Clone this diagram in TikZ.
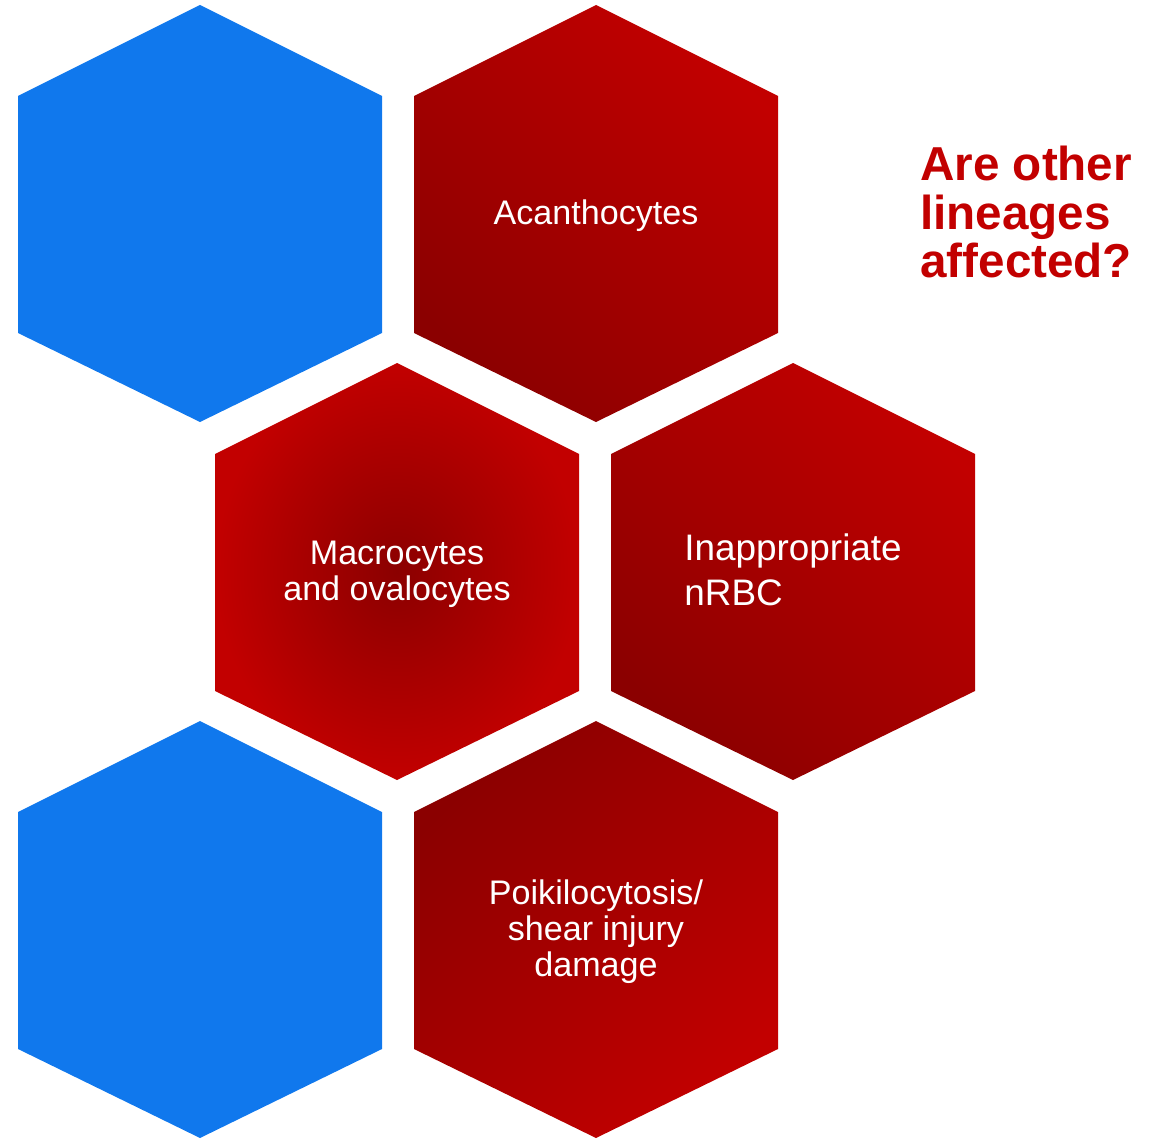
\documentclass[tikz,border=0pt]{standalone}
\usepackage{fontspec}
\setmainfont{Liberation Sans}
\definecolor{celldark}{RGB}{139,0,0}
\definecolor{cellred}{RGB}{194,0,0}
\definecolor{cellblue}{RGB}{16,120,237}
\newcommand\hexcell[2]{(#1,#2-208.5) -- (#1+182,#2-117.5) -- (#1+182,#2+119.5) -- (#1,#2+208.5) -- (#1-182,#2+119.5) -- (#1-182,#2-117.5) -- cycle}
\tikzset{
  celltext/.style={text=white, inner sep=0pt, align=center, font=\fontsize{19.4}{20.4}\selectfont},
  redlin/.style={top color=cellred, bottom color=celldark, draw=none}
}
\begin{document}
\begin{tikzpicture}[x=0.02cm, y=-0.02cm]
  \useasboundingbox (0,0) rectangle (1163,1142);
  \fill[cellblue] \hexcell{200}{213.5};
  \shade[redlin, shading angle=-45] \hexcell{596}{213.5};
  \shade[inner color=celldark, outer color=cellred] \hexcell{397}{571.5};
  \shade[redlin, shading angle=-45] \hexcell{793}{571.5};
  \fill[cellblue] \hexcell{200}{929.5};
  \shade[redlin, shading angle=-135] \hexcell{596}{929.5};
  \node[celltext] (acan) at (596,216) {Acanthocytes};
  \node[celltext] (macro) at (397,574) {Macrocytes\\and ovalocytes};
  \node[celltext, anchor=west, align=left, font=\fontsize{21}{25.6}\selectfont] (nrbc) at (684,570) {Inappropriate\\nRBC};
  \node[celltext] (poik) at (596,932) {Poikilocytosis/\\shear injury\\damage};
  \node[anchor=west, align=left, inner sep=0pt, text=cellred, font=\bfseries\fontsize{27.1}{27.8}\selectfont] (quest) at (920,212) {Are other\\lineages\\affected?};
\end{tikzpicture}
\end{document}
